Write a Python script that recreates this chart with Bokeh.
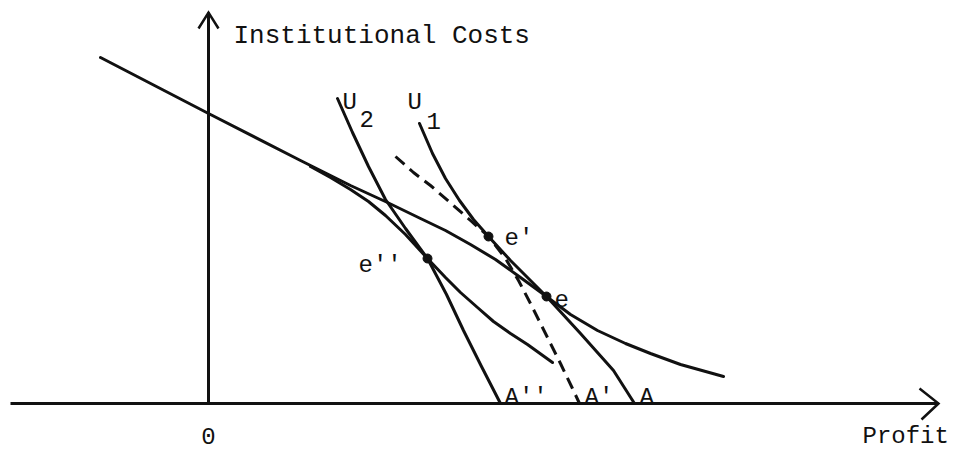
from bokeh.plotting import figure
from bokeh.models import Range1d
from bokeh.embed import file_html
from bokeh.resources import INLINE
from bokeh.core.properties import value

# ---- data (diagram units: origin at the axes' crossing) ----
axis_x_start, axis_x_end = -198, 730
axis_y_top = 391

frontier_x = [-108, 0, 92, 142, 179, 212, 237, 262, 287, 312, 338, 362, 389, 417, 442, 472, 515]
frontier_y = [346, 290, 243, 218, 201, 185, 173, 159, 144, 126, 107, 89, 73, 60, 50, 39, 27]

lower_x = [102, 122, 142, 160, 177, 197, 219, 237, 252, 269, 285, 302, 319, 344]
lower_y = [237, 226, 214, 202, 188, 169, 145, 126, 111, 96, 82, 70, 59, 41]

u2_x = [129, 144, 160, 177, 197, 219, 238, 255, 273, 292]
u2_y = [305, 271, 237, 204, 175, 145, 109, 73, 37, 0]

u1_x = [211, 224, 237, 251, 265, 280, 302, 325, 338, 372, 405, 426]
u1_y = [280, 250, 225, 203, 184, 167, 143, 120, 107, 70, 33, 0]

dash_x = [187, 205, 222, 245, 262, 280, 297, 310, 322, 337, 352, 364, 371]
dash_y = [247, 231, 218, 198, 183, 167, 145, 123, 100, 70, 40, 15, 0]

eq_names = ["e'", "e''", "e"]
eq_x = [280, 219, 338]
eq_y = [167, 145, 107]

label_text = ["U", "2", "U", "1", "e'", "e''", "e", "A''", "A'", "A", "Profit"]
label_x = [134, 151, 199, 218, 296, 150, 346, 296, 376, 431, 654]
label_y = [301, 285, 301, 283, 165, 138, 105, 6, 6, 6, -33]

origin_text = ["0"]
origin_x = [0]
origin_y = [-32]

title_text = ["Institutional Costs"]
title_x = [25]
title_y = [368]

# ---- figure ----
W, H = 957, 449
p = figure(width=W, height=H, output_backend="svg", toolbar_location=None,
           x_range=Range1d(-208, 749), y_range=Range1d(-46, 403),
           min_border=0)
p.axis.visible = False
p.grid.visible = False
p.outline_line_color = None
p.background_fill_color = "white"
p.border_fill_color = "white"

ink = "#111111"
lw = 3

# axes
p.line([axis_x_start, axis_x_end], [0, 0], line_color=ink, line_width=3)
p.line([0, 0], [0, axis_y_top], line_color=ink, line_width=3)
# arrow heads (open)
p.line([axis_x_end - 19, axis_x_end, axis_x_end - 17], [15, 0, -16],
       line_color=ink, line_width=2.5, line_join="miter")
p.line([-10, 0, 10], [axis_y_top - 16, axis_y_top, axis_y_top - 16],
       line_color=ink, line_width=2.5, line_join="miter")

# curves
for xs, ys in [(frontier_x, frontier_y), (lower_x, lower_y),
               (u2_x, u2_y), (u1_x, u1_y)]:
    p.line(xs, ys, line_color=ink, line_width=lw, line_join="round", line_cap="round")
p.line(dash_x, dash_y, line_color=ink, line_width=lw, line_dash="12 7")

# equilibrium points
p.scatter(eq_x, eq_y, size=9, fill_color=ink, line_color=ink)

# labels
p.text(label_x, label_y, text=label_text, text_font=value("Liberation Mono"),
       text_font_size="24px", text_color=ink, text_baseline="alphabetic",
       text_align="left")
p.text(origin_x, origin_y, text=origin_text, text_font=value("Liberation Mono"),
       text_font_size="24px", text_color=ink, text_baseline="alphabetic",
       text_align="center")
p.text(title_x, title_y, text=title_text, text_font=value("Liberation Mono"),
       text_font_size="26px", text_color=ink, text_baseline="alphabetic",
       text_align="left")

open("out.html", "w").write(file_html(p, INLINE))
